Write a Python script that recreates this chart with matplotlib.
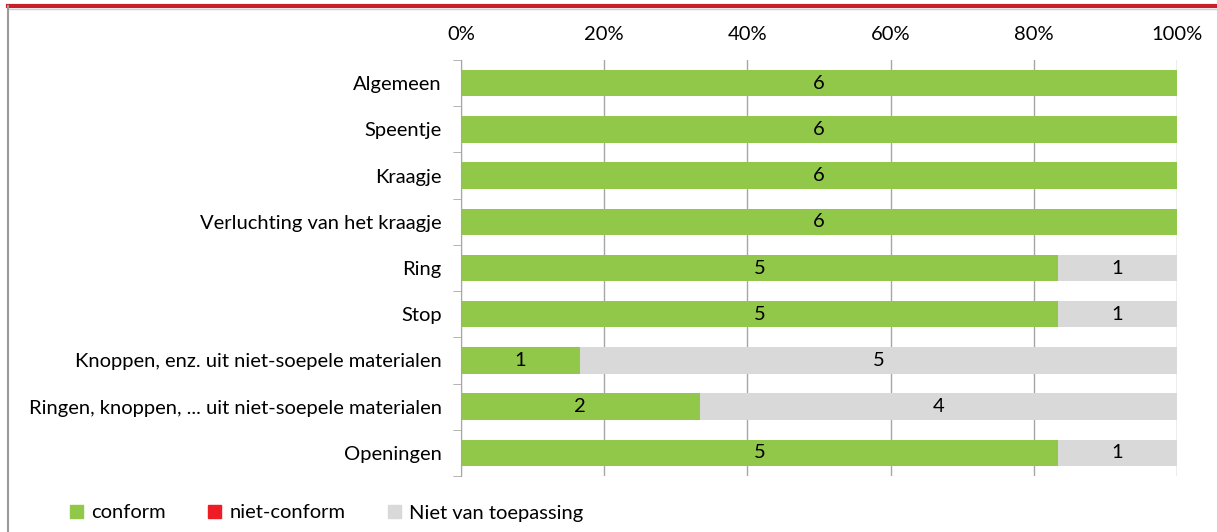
import numpy as np
import matplotlib.pyplot as plt
from matplotlib.lines import Line2D
from matplotlib.patches import Patch

# data
categories = ['Algemeen', 'Speentje', 'Kraagje', 'Verluchting van het kraagje', 'Ring', 'Stop',
              'Knoppen, enz. uit niet-soepele materialen',
              'Ringen, knoppen, ... uit niet-soepele materialen', 'Openingen']
conform = [6, 6, 6, 6, 5, 5, 1, 2, 5]
niet_conform = [0, 0, 0, 0, 0, 0, 0, 0, 0]
niet_van_toepassing = [0, 0, 0, 0, 1, 1, 5, 4, 1]
series_names = ['conform', 'niet-conform', 'Niet van toepassing']
colors = ['#92C84A', '#EE1C25', '#D9D9D9']

plt.rcParams['font.family'] = ['Lato', 'DejaVu Sans']
fs = 14.5

counts = np.array([conform, niet_conform, niet_van_toepassing], dtype=float)
totals = counts.sum(axis=0)
shares = counts / totals

fig = plt.figure(figsize=(12.17, 5.32), dpi=100)
ax = fig.add_axes([461 / 1217, 1 - 476 / 532, (1177 - 461) / 1217, (476 - 60) / 532])

y = np.arange(len(categories))
left = np.zeros(len(categories))
for i in range(3):
    ax.barh(y, shares[i], left=left, height=0.57, color=colors[i], zorder=2)
    for j in range(len(categories)):
        if counts[i, j] > 0:
            ax.text(left[j] + shares[i, j] / 2, y[j], f'{int(counts[i, j])}',
                    ha='center', va='center', fontsize=fs, color='black', zorder=3)
    left += shares[i]

ax.set_xlim(0, 1)
ax.set_ylim(len(categories) - 0.5, -0.5)
ax.set_xticks(np.linspace(0, 1, 6))
ax.set_xticklabels([f'{int(v * 100)}%' for v in np.linspace(0, 1, 6)], fontsize=fs)
ax.xaxis.tick_top()
ax.tick_params(axis='x', length=0, pad=12)
ax.grid(axis='x', color='#A6A6A6', linewidth=1, zorder=0)

ax.set_yticks(y)
ax.set_yticklabels(categories, fontsize=fs)
ax.set_yticks(np.arange(len(categories) + 1) - 0.5, minor=True)
ax.tick_params(axis='y', which='major', length=0, pad=14)
ax.tick_params(axis='y', which='minor', length=6, color='#A6A6A6', direction='out')

for s in ['top', 'right', 'bottom']:
    ax.spines[s].set_visible(False)
ax.spines['left'].set_color('#A6A6A6')

handles = [Patch(color=c, label=n) for c, n in zip(colors, series_names)]
fig.legend(handles=handles, loc='center left', bbox_to_anchor=(52 / 1217, 1 - 513 / 532),
           ncol=3, frameon=False, fontsize=fs, handlelength=0.65, handleheight=0.65,
           handletextpad=0.4, columnspacing=2.1)

# frame of the original screenshot
fig.add_artist(Line2D([8 / 1217, 1], [1 - 6 / 532] * 2, color='#C8202A', linewidth=3))
fig.add_artist(Line2D([8 / 1217, 1], [1 - 9 / 532] * 2, color='#D0D0D0', linewidth=1))
fig.add_artist(Line2D([8 / 1217] * 2, [0, 1 - 6 / 532], color='#9A9A9A', linewidth=1.5))

fig.savefig('out.png', dpi=100)
